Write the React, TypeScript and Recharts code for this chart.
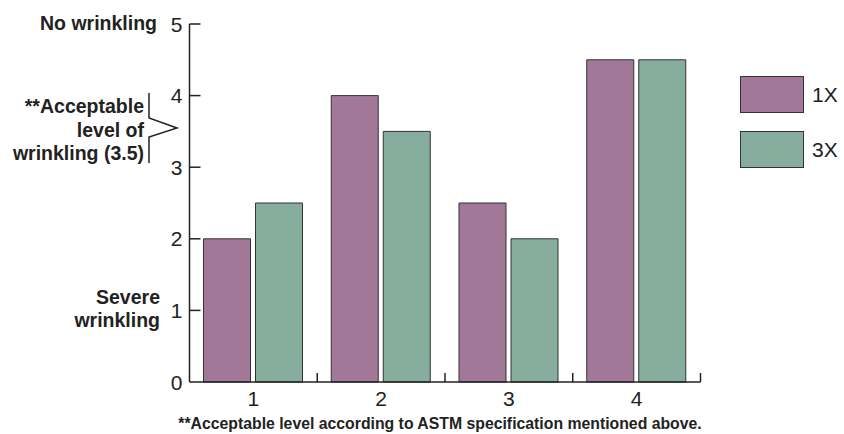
import React from "react";
import { BarChart, Bar, XAxis, YAxis } from "recharts";

const categories = ["1", "2", "3", "4"];
const values1X = [2, 4, 2.5, 4.5];
const values3X = [2.5, 3.5, 2, 4.5];
const yTicks = [0, 1, 2, 3, 4, 5];
const seriesNames = ["1X", "3X"];
const seriesColors = ["#A27898", "#86AD9E"];

const data = categories.map((c, i) => ({ cat: c, x1: values1X[i], x3: values3X[i] }));

const W = 844;
const H = 434;
const PLOT_LEFT = 189.5;
const PLOT_RIGHT = 700.5;
const PLOT_W = PLOT_RIGHT - PLOT_LEFT;
const INK = "#222";
const FONT = "'Liberation Sans', Arial, sans-serif";
const TICK_FONT = 21;

function YTick(props: any) {
  const { x, y, payload } = props;
  return (
    <g>
      {payload.value !== 0 && (
        <line x1={x} x2={x + 11} y1={y} y2={y} stroke={INK} strokeWidth={1.5} />
      )}
      <text x={x - 7} y={y} dy="0.36em" textAnchor="end" fontSize={TICK_FONT} fill={INK} fontFamily={FONT}>
        {payload.value}
      </text>
    </g>
  );
}

function XTick(props: any) {
  const { x, y, payload, index } = props;
  const half = PLOT_W / categories.length / 2;
  return (
    <g>
      {index > 0 && (
        <line x1={x - half} x2={x - half} y1={y} y2={y - 9} stroke={INK} strokeWidth={1.5} />
      )}
      {index === categories.length - 1 && (
        <line x1={x + half} x2={x + half} y1={y} y2={y - 9} stroke={INK} strokeWidth={1.5} />
      )}
      <text x={x} y={y + 16} dy="0.36em" textAnchor="middle" fontSize={TICK_FONT} fill={INK} fontFamily={FONT}>
        {payload.value}
      </text>
    </g>
  );
}

export default function App() {
  const bold = { fontFamily: FONT, fontWeight: 700, fontSize: 19.5, fill: INK } as const;
  return (
    <div style={{ position: "absolute", left: 0, top: 0, width: W, height: H, background: "#fff", overflow: "hidden" }}>
      <BarChart
        width={W}
        height={H}
        data={data}
        margin={{ top: 24, right: W - PLOT_RIGHT, bottom: 22, left: PLOT_LEFT - 40 }}
        barCategoryGap={14}
        barGap={5}
      >
        <XAxis
          dataKey="cat"
          height={30}
          axisLine={{ stroke: INK, strokeWidth: 1.5 }}
          tickLine={false}
          tickSize={0}
          tickMargin={0}
          tick={<XTick />}
          interval={0}
        />
        <YAxis
          width={40}
          domain={[0, 5]}
          ticks={yTicks}
          axisLine={{ stroke: INK, strokeWidth: 1.5 }}
          tickLine={false}
          tickSize={0}
          tickMargin={0}
          tick={<YTick />}
          interval={0}
        />
        <Bar dataKey="x1" name={seriesNames[0]} fill={seriesColors[0]} stroke="#333" strokeWidth={1} isAnimationActive={false} />
        <Bar dataKey="x3" name={seriesNames[1]} fill={seriesColors[1]} stroke="#333" strokeWidth={1} isAnimationActive={false} />
      </BarChart>
      <div style={{ position: "absolute", left: 740, top: 76, fontFamily: FONT }}>
        {seriesNames.map((n, i) => (
          <div key={n} style={{ display: "flex", alignItems: "center", height: 37, marginBottom: 18 }}>
            <div
              style={{
                width: 62,
                height: 35,
                background: seriesColors[i],
                border: "1px solid #333",
                marginRight: 8,
              }}
            />
            <span style={{ fontSize: TICK_FONT, color: INK }}>{n}</span>
          </div>
        ))}
      </div>
      <svg width={W} height={H} style={{ position: "absolute", left: 0, top: 0, pointerEvents: "none" }}>
        <text x={157} y={23} dy="0.36em" textAnchor="end" {...bold}>No wrinkling</text>
        <text x={144} y={106} dy="0.36em" textAnchor="end" {...bold}>**Acceptable</text>
        <text x={144} y={130} dy="0.36em" textAnchor="end" {...bold}>level of</text>
        <text x={144} y={153} dy="0.36em" textAnchor="end" {...bold}>wrinkling (3.5)</text>
        <polyline
          points="149,93 149,118 177,128 149,137 149,163"
          fill="none"
          stroke={INK}
          strokeWidth={1.5}
        />
        <text x={160} y={297} dy="0.36em" textAnchor="end" {...bold}>Severe</text>
        <text x={160} y={320} dy="0.36em" textAnchor="end" {...bold}>wrinkling</text>
        <text x={440} y={429} textAnchor="middle" fontFamily={FONT} fontWeight={700} fontSize={15.8} fill={INK}>
          **Acceptable level according to ASTM specification mentioned above.
        </text>
      </svg>
    </div>
  );
}
